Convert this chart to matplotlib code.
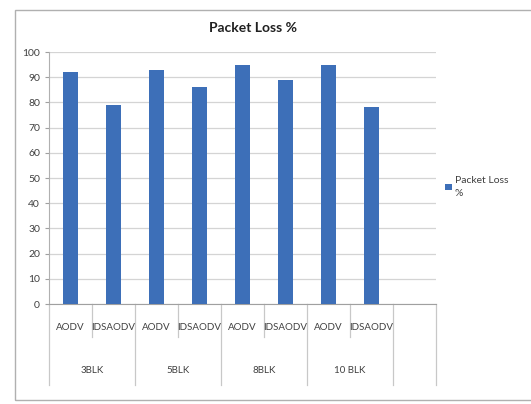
import numpy as np
import matplotlib.pyplot as plt
from matplotlib.patches import Rectangle

# dades del gràfic
groups = ['3BLK', '5BLK', '8BLK', '10 BLK']
protocols = ['AODV', 'IDSAODV', 'AODV', 'IDSAODV', 'AODV', 'IDSAODV', 'AODV', 'IDSAODV']
packet_loss = [92, 79, 93, 86, 95, 89, 95, 78]

plt.rcParams['font.family'] = ['Lato', 'DejaVu Sans']

fig = plt.figure(figsize=(5.31, 4.04), dpi=100)
W, H = 531, 404

# marc exterior del gràfic
fig.patches.append(Rectangle((15 / W, 1 - 400 / H), 1.0, 390 / H, transform=fig.transFigure,
                             fill=False, edgecolor='#b0b0b0', linewidth=1.0))

ax = fig.add_axes([49 / W, 1 - 304 / H, 387 / W, 252 / H])
x = np.arange(len(packet_loss))
ax.bar(x, packet_loss, width=0.37, color='#3d6fb8', zorder=3, label='Packet Loss\n%')

ax.set_xlim(-0.5, 8.5)      # última categoria buida
ax.set_ylim(0, 100)
ax.set_yticks(np.arange(0, 101, 10))
ax.tick_params(axis='y', labelsize=7.5, colors='#404040', length=3, color='#a0a0a0')
ax.tick_params(axis='x', bottom=False, labelbottom=False)
ax.grid(axis='y', color='#d4d4d4', linewidth=0.9, zorder=0)
for s in ['top', 'right']:
    ax.spines[s].set_visible(False)
ax.spines['left'].set_color('#b0b0b0')
ax.spines['bottom'].set_color('#a0a0a0')

# eix x de dos nivells
tr = ax.get_xaxis_transform()
for i, p in enumerate(protocols):
    ax.text(i, -0.095, p, transform=tr, ha='center', va='center', fontsize=7, color='#404040')
for g, name in enumerate(groups):
    ax.text(2 * g + 0.5, -0.262, name, transform=tr, ha='center', va='center', fontsize=7, color='#404040')
for i in range(10):
    xi = i - 0.5
    y0 = -0.321 if i % 2 == 0 or i == 9 else -0.131
    ax.plot([xi, xi], [0, y0], transform=tr, color='#c8c8c8', linewidth=0.9, clip_on=False)

fig.text(253 / W, 1 - 28 / H, 'Packet Loss %', ha='center', va='center', fontsize=10,
         fontweight='bold', color='#202020')

leg = ax.legend(loc='center left', bbox_to_anchor=(436 / W, 1 - 187 / H), bbox_transform=fig.transFigure,
                frameon=False, fontsize=7.5, handlelength=0.6, handleheight=0.6, handletextpad=0.3,
                labelcolor='#404040')
for t in leg.get_texts():
    t.set_linespacing(1.7)

fig.savefig('out.png', dpi=100)
